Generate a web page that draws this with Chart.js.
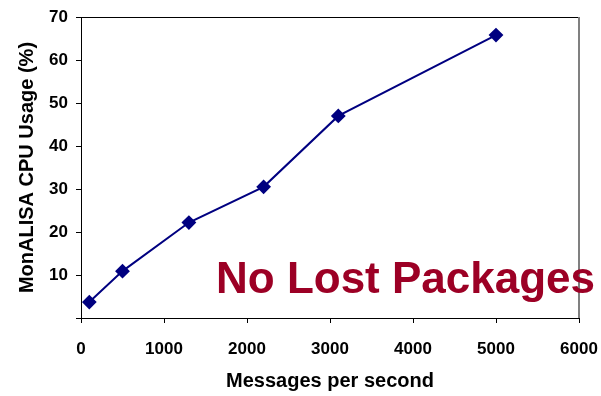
<!DOCTYPE html>
<html>
<head>
<meta charset="utf-8">
<script src="https://cdn.jsdelivr.net/npm/chart.js@4"></script>
<style>
  html, body { margin: 0; padding: 0; background: #fff; }
  #wrap { position: relative; width: 601px; height: 396px; }
  #note { position: absolute; left: 216px; top: 253px; font: bold 44px "Liberation Sans", Arial, sans-serif; color: #9C0025; white-space: nowrap; line-height: 50px; }
</style>
</head>
<body>
<div id="wrap">
  <canvas id="c" width="601" height="396"></canvas>
  <div id="note">No Lost Packages</div>
</div>
<script>
const messagesPerSecond = [100, 500, 1300, 2200, 3100, 5000];
const cpuUsage = [3.7, 10.9, 22.2, 30.5, 47.0, 65.8];
const xTicks = [0, 1000, 2000, 3000, 4000, 5000, 6000];
const yTicks = [0, 10, 20, 30, 40, 50, 60, 70];
const xTitle = 'Messages per second';
const yTitle = 'MonALISA CPU Usage (%)';

const FONT = '"Liberation Sans", Arial, sans-serif';

const borderPlugin = {
  id: 'areaBorder',
  beforeDatasetsDraw(chart) {
    const { ctx, chartArea: a } = chart;
    ctx.save();
    ctx.lineWidth = 1;
    ctx.strokeStyle = '#000';
    ctx.beginPath();
    ctx.moveTo(a.left, a.top + 0.5);
    ctx.lineTo(a.right, a.top + 0.5);
    ctx.stroke();
    ctx.strokeStyle = '#808080';
    ctx.lineWidth = 2;
    ctx.beginPath();
    ctx.moveTo(a.right, a.top);
    ctx.lineTo(a.right, a.bottom);
    ctx.stroke();
    ctx.restore();
  }
};

new Chart(document.getElementById('c'), {
  type: 'scatter',
  data: {
    datasets: [{
      data: messagesPerSecond.map((x, i) => ({ x, y: cpuUsage[i] })),
      showLine: true,
      borderColor: '#000080',
      backgroundColor: '#000080',
      borderWidth: 2,
      pointStyle: 'rectRot',
      pointRadius: 6,
      pointHoverRadius: 6,
      tension: 0
    }]
  },
  options: {
    responsive: false,
    animation: false,
    events: [],
    layout: { padding: { left: 0, right: 22, top: 17, bottom: 0 } },
    plugins: { legend: { display: false }, tooltip: { enabled: false } },
    scales: {
      x: {
        type: 'linear',
        min: 0, max: 6000,
        afterBuildTicks(s) { s.ticks = xTicks.map(v => ({ value: v })); },
        afterFit(s) { s.height = 78; s.paddingRight = 0; s.paddingLeft = 0; },
        grid: { drawOnChartArea: false, tickLength: 5, color: '#000' },
        border: { color: '#000', width: 1 },
        ticks: { color: '#000', padding: 16, maxRotation: 0, font: { family: FONT, size: 17, weight: 'bold' },
          callback: v => String(v) },
        title: { display: true, text: xTitle, color: '#000', padding: { top: 0, bottom: 3 }, font: { family: FONT, size: 20, weight: 'bold' } }
      },
      y: {
        type: 'linear',
        min: 0, max: 70,
        afterBuildTicks(s) { s.ticks = yTicks.map(v => ({ value: v })); },
        afterFit(s) { s.width = 81; s.paddingTop = 0; s.paddingBottom = 0; },
        grid: { drawOnChartArea: false, tickLength: 5, color: '#000' },
        border: { color: '#000', width: 1 },
        ticks: { color: '#000', padding: 8, font: { family: FONT, size: 17, weight: 'bold' },
          callback: v => v === 0 ? '' : String(v) },
        title: { display: true, text: yTitle, color: '#000', padding: { top: 15, bottom: 0 }, font: { family: FONT, size: 20, weight: 'bold' } }
      }
    }
  },
  plugins: [borderPlugin]
});
</script>
</body>
</html>
